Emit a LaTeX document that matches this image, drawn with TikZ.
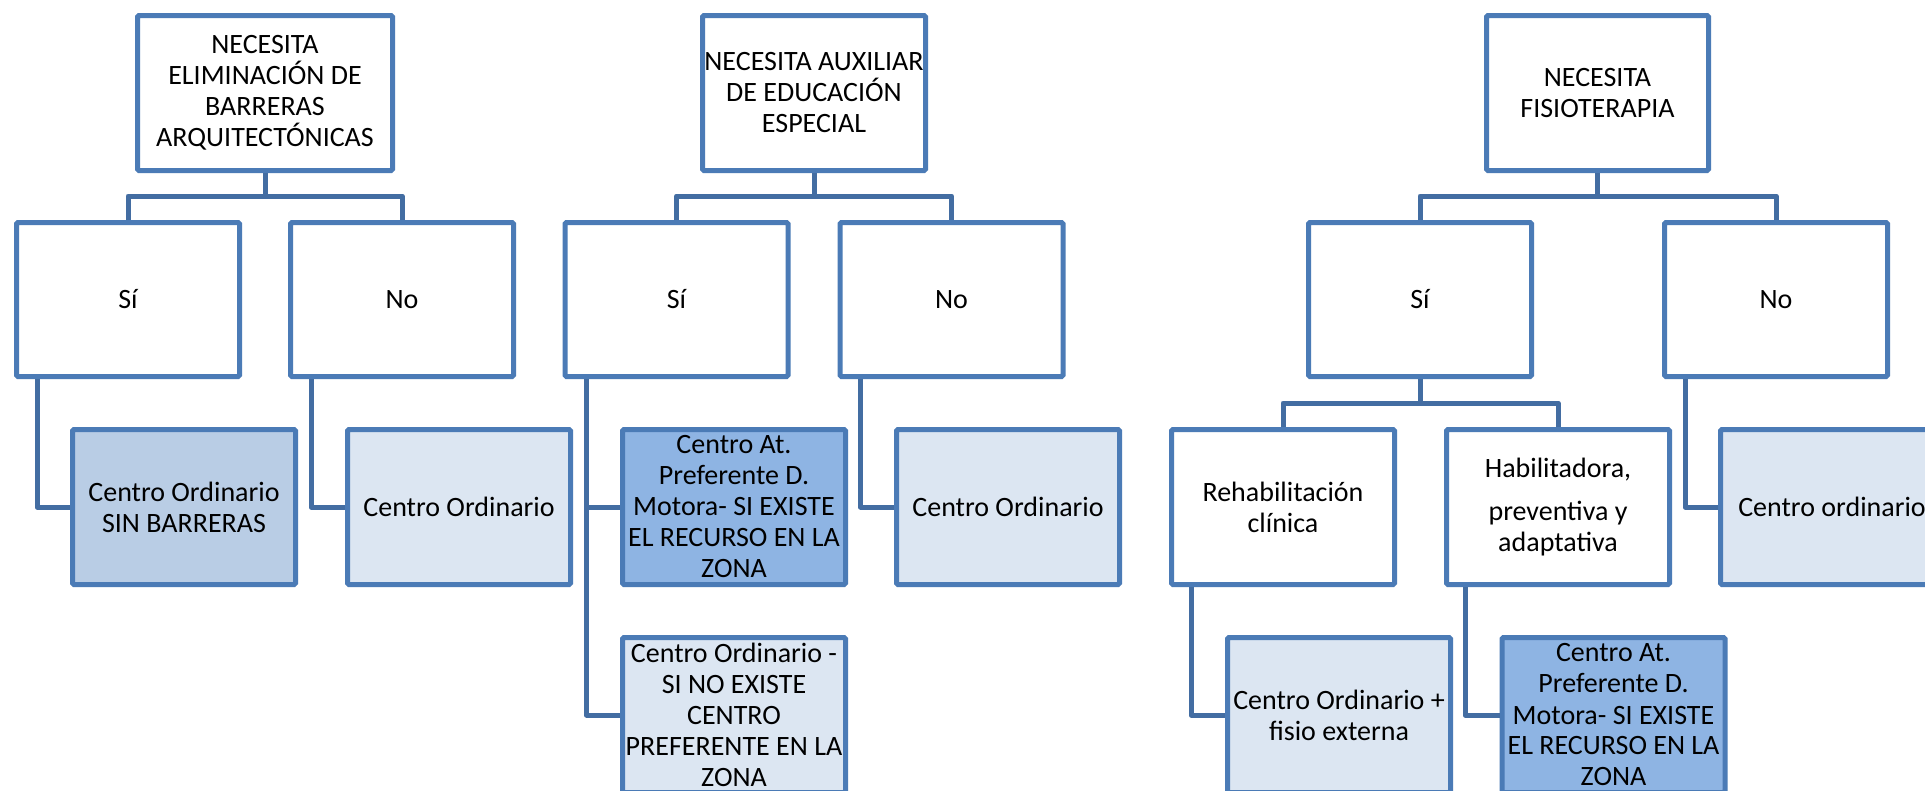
\documentclass[tikz,border=0pt]{standalone}
\usepackage{fontspec}
\setmainfont{Carlito}
\definecolor{bord}{HTML}{4B7BB6}
\definecolor{lnk}{HTML}{436DA2}
\definecolor{fmid}{HTML}{B9CDE5}
\definecolor{flight}{HTML}{DCE6F2}
\definecolor{fdark}{HTML}{8EB4E3}
\begin{document}
\begin{tikzpicture}[x=1pt,y=-1pt,
  box/.style={draw=bord, line width=5pt, rectangle, inner sep=0pt, align=center,
    font=\fontsize{28}{31}\selectfont, text=black, fill=white, rounded corners=1.5pt},
  topbox/.style={box, minimum height=155pt},
  midbox/.style={box, minimum width=223pt, minimum height=154pt},
  leafbox/.style={box, minimum width=223pt, minimum height=155pt},
  conn/.style={draw=lnk, line width=5pt, line join=round}]
\useasboundingbox (0,0) rectangle (1925,790);
\clip (0,0) rectangle (1925,790);
\fill[white] (0,0) rectangle (1925,790);

% top level
\node[topbox, minimum width=255pt] (t1) at (265,93) {NECESITA\\ELIMINACIÓN DE\\BARRERAS\\ARQUITECTÓNICAS};
\node[topbox, minimum width=223pt] (t2) at (814,93) {NECESITA AUXILIAR\\DE EDUCACIÓN\\ESPECIAL};
\node[topbox, minimum width=222pt] (t3) at (1597.5,93) {NECESITA\\FISIOTERAPIA};

% second level
\node[midbox] (s1) at (128,299.5) {Sí};
\node[midbox] (n1) at (402,299.5) {No};
\node[midbox] (s2) at (676.5,299.5) {Sí};
\node[midbox] (n2) at (951.5,299.5) {No};
\node[midbox] (s3) at (1420,299.5) {Sí};
\node[midbox] (n3) at (1776,299.5) {No};

% third row
\node[leafbox, fill=fmid] (l1) at (184,507) {Centro Ordinario\\SIN BARRERAS};
\node[leafbox, fill=flight] (l1n) at (459,507) {Centro Ordinario};
\node[leafbox, fill=fdark] (l2a) at (734,507) {Centro At.\\Preferente D.\\Motora- SI EXISTE\\EL RECURSO EN LA\\ZONA};
\node[leafbox, fill=flight] (l2n) at (1008,507) {Centro Ordinario};
\node[leafbox] (r3) at (1283,507) {Rehabilitación\\clínica};
\node[leafbox] (h3) at (1558,507) {Habilitadora,\\[12pt]preventiva y\\adaptativa};
\node[leafbox, fill=flight] (l3n) at (1832,507) {Centro ordinario};

% fourth row
\node[leafbox, fill=flight] (l2b) at (734,715) {Centro Ordinario -\\SI NO EXISTE\\CENTRO\\PREFERENTE EN LA\\ZONA};
\node[leafbox, fill=flight] (r3l) at (1339,715) {Centro Ordinario +\\fisio externa};
\node[leafbox, fill=fdark] (h3l) at (1613.5,715) {Centro At.\\Preferente D.\\Motora- SI EXISTE\\EL RECURSO EN LA\\ZONA};

% bars
\coordinate (b1) at (265,196);
\coordinate (b2) at (814,196);
\coordinate (b3) at (1597.5,196);
\coordinate (b4) at (1420,403);

\draw[conn] (t1.south) -- (b1);
\draw[conn] (s1.north) |- (b1) -| (n1.north);
\draw[conn] (t2.south) -- (b2);
\draw[conn] (s2.north) |- (b2) -| (n2.north);
\draw[conn] (t3.south) -- (b3);
\draw[conn] (s3.north) |- (b3) -| (n3.north);
\draw[conn] (s3.south) -- (b4);
\draw[conn] (r3.north) |- (b4) -| (h3.north);

% side connectors
\draw[conn] ([xshift=23pt]s1.south west) |- (l1.west);
\draw[conn] ([xshift=23pt]n1.south west) |- (l1n.west);
\draw[conn] ([xshift=24pt]s2.south west) |- (l2a.west);
\draw[conn] ([xshift=24pt]s2.south west) |- (l2b.west);
\draw[conn] ([xshift=23pt]n2.south west) |- (l2n.west);
\draw[conn] ([xshift=23pt]n3.south west) |- (l3n.west);
\draw[conn] ([xshift=22pt]r3.south west) |- (r3l.west);
\draw[conn] ([xshift=21pt]h3.south west) |- (h3l.west);
\end{tikzpicture}
\end{document}
